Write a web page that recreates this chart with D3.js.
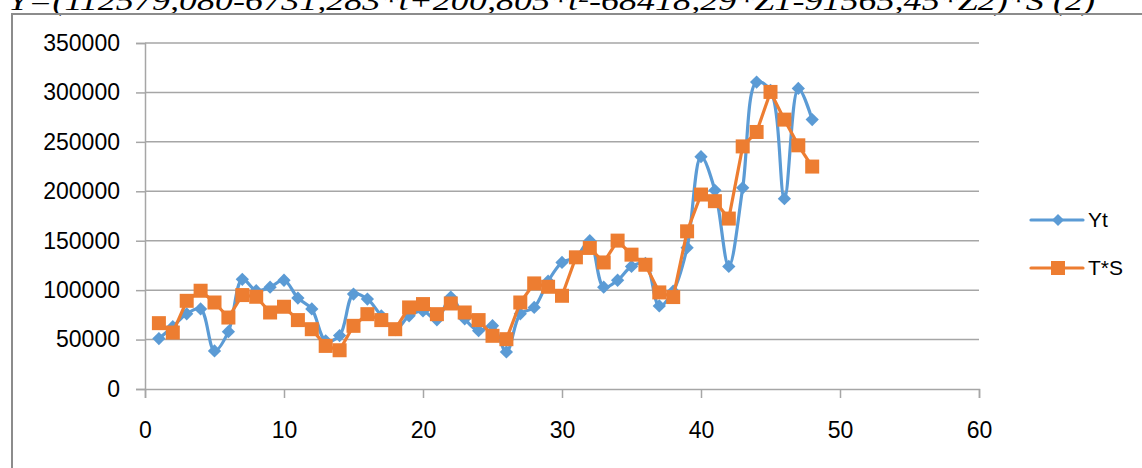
<!DOCTYPE html>
<html><head><meta charset="utf-8">
<script src="https://cdn.jsdelivr.net/npm/d3@7"></script>
<style>html,body{margin:0;padding:0;background:#fff;overflow:hidden}</style>
</head><body>
<svg id="c" width="1142" height="468"></svg>
<script>
const t = d3.range(1, 49);
const yt = [51000, 63000, 76000, 81000, 38500, 58000, 111000, 99500, 103000, 110000, 92000, 81000,
  48700, 54000, 96000, 91000, 74000, 60000, 74000, 79000, 70000, 93000, 71000, 59000,
  64000, 37500, 76000, 82500, 109000, 128000, 133000, 150000, 103000, 110000, 124000, 127000,
  84000, 99000, 143000, 235000, 201000, 124000, 203500, 310500, 302000, 192500, 304000, 272500];
const ts = [66600, 57100, 89200, 99400, 87500, 72300, 95000, 93300, 77400, 83200, 69700, 60500,
  43600, 39200, 63900, 75700, 69700, 60500, 82500, 85900, 75700, 86500, 77400, 69700,
  53800, 50400, 87500, 106800, 103400, 94300, 133200, 142700, 128000, 150100, 135900, 125700,
  97700, 93000, 159500, 196700, 190000, 172400, 245400, 260000, 300500, 272500, 246500, 225000];
const yTicks = [0, 50000, 100000, 150000, 200000, 250000, 300000, 350000];
const xTicks = [0, 10, 20, 30, 40, 50, 60];
const seriesNames = ["Yt", "T*S"];
const title = "Y=(112579,080-6731,283*t+200,805*t²-68418,29*Z1-91565,45*Z2)*S (2)";

const svg = d3.select("#c");
const blue = "#5B9BD5", orange = "#ED7D31", grid = "#A6A6A6";
const font = "Liberation Sans, Arial, sans-serif";

// formula text (cropped at top, as in the source)
svg.append("text").attr("x", 8).attr("y", 10)
  .attr("font-family", "Liberation Serif, Times New Roman, serif")
  .attr("font-style", "italic").attr("font-size", 28).attr("fill", "#000")
  .attr("textLength", 1087).attr("lengthAdjust", "spacingAndGlyphs")
  .text(title);

// chart frame
svg.append("rect").attr("x", 12).attr("y", 14).attr("width", 1200).attr("height", 500)
  .attr("fill", "none").attr("stroke", "#8c8c8c").attr("stroke-width", 2);

const x = d3.scaleLinear().domain([0, 60]).range([145, 979]);
const y = d3.scaleLinear().domain([0, 350000]).range([389, 43]);

// gridlines
svg.append("g").selectAll("line").data(yTicks.slice(1)).join("line")
  .attr("x1", x(0)).attr("x2", x(60)).attr("y1", d => y(d)).attr("y2", d => y(d))
  .attr("stroke", grid).attr("stroke-width", 1.5);

// y axis
const ya = svg.append("g").attr("transform", `translate(${x(0)},0)`)
  .call(d3.axisLeft(y).tickValues(yTicks).tickSize(9).tickPadding(16).tickFormat(d3.format("d")));
ya.select(".domain").attr("stroke", grid).attr("stroke-width", 1.5);
ya.selectAll(".tick line").attr("stroke", grid).attr("stroke-width", 1.5);
ya.selectAll("text").attr("font-family", font).attr("font-size", 23).attr("fill", "#000");

// x axis
const xa = svg.append("g").attr("transform", `translate(0,${y(0)})`)
  .call(d3.axisBottom(x).tickValues(xTicks).tickSize(9).tickPadding(24).tickFormat(d3.format("d")));
xa.select(".domain").attr("stroke", grid).attr("stroke-width", 1.5);
xa.selectAll(".tick line").attr("stroke", grid).attr("stroke-width", 1.5);
xa.selectAll("text").attr("font-family", font).attr("font-size", 23).attr("fill", "#000");

// series
const lineSmooth = d3.line().x((d, i) => x(t[i])).y(d => y(d)).curve(d3.curveCatmullRom.alpha(0.5));
const lineStraight = d3.line().x((d, i) => x(t[i])).y(d => y(d));

svg.append("path").datum(yt).attr("d", lineSmooth)
  .attr("fill", "none").attr("stroke", blue).attr("stroke-width", 3.2).attr("stroke-linejoin", "round");
const diamond = d3.symbol().type(d3.symbolSquare).size(88);
svg.append("g").selectAll("path").data(yt).join("path")
  .attr("d", diamond)
  .attr("transform", (d, i) => `translate(${x(t[i])},${y(d)}) rotate(45)`)
  .attr("fill", blue);

svg.append("path").datum(ts).attr("d", lineStraight)
  .attr("fill", "none").attr("stroke", orange).attr("stroke-width", 3.2).attr("stroke-linejoin", "round");
svg.append("g").selectAll("rect").data(ts).join("rect")
  .attr("x", (d, i) => x(t[i]) - 7).attr("y", d => y(d) - 7)
  .attr("width", 14).attr("height", 14).attr("fill", orange);

// legend
const lg = svg.append("g");
const ly = [220, 268];
[blue, orange].forEach((c, k) => {
  lg.append("line").attr("x1", 1031).attr("x2", 1083).attr("y1", ly[k]).attr("y2", ly[k])
    .attr("stroke", c).attr("stroke-width", 3.2).attr("stroke-linecap", "round");
  if (k === 0) {
    lg.append("path").attr("d", d3.symbol().type(d3.symbolSquare).size(72))
      .attr("transform", `translate(1058,${ly[k]}) rotate(45)`).attr("fill", c);
  } else {
    lg.append("rect").attr("x", 1051).attr("y", ly[k] - 7).attr("width", 14).attr("height", 14).attr("fill", c);
  }
  lg.append("text").attr("x", 1088).attr("y", ly[k]).attr("dy", "0.35em")
    .attr("font-family", font).attr("font-size", 21).attr("fill", "#000").text(seriesNames[k]);
});
</script>
</body></html>
